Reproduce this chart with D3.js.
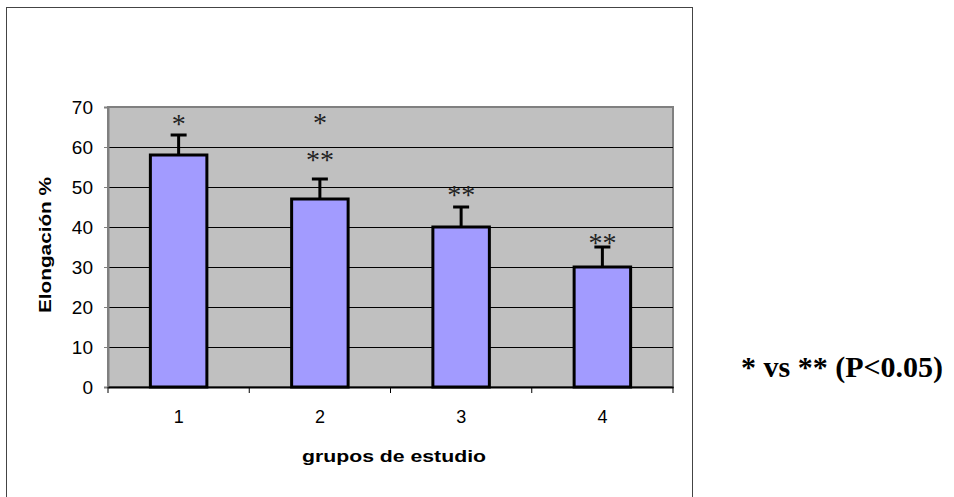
<!DOCTYPE html>
<html>
<head>
<meta charset="utf-8">
<script src="https://cdn.jsdelivr.net/npm/d3@7"></script>
<style>
  html, body { margin: 0; padding: 0; background: #fff; }
  svg { display: block; }
</style>
</head>
<body>
<svg id="chart" width="954" height="497"></svg>
<script>
// Elongation by study group (mean with upper error bar)
const groups = ["1", "2", "3", "4"];
const meanValues = [58, 47, 40, 30];
const errorValues = [5, 5, 5, 5];
const yTicks = [0, 10, 20, 30, 40, 50, 60, 70];
// significance marks per group: [label, value level where it is drawn]
const sigMarks = [
  [{ text: "*", level: 67.2 }],
  [{ text: "*", level: 67.4 }, { text: "**", level: 58.2 }],
  [{ text: "**", level: 49.6 }],
  [{ text: "**", level: 37.4 }]
];
const yTitle = "Elongación %";
const xTitle = "grupos de estudio";
const noteText = "* vs ** (P<0.05)";

const svg = d3.select("#chart");
const plot = { left: 108, right: 673, top: 107, bottom: 387 };

const x = d3.scaleBand().domain(groups)
  .range([plot.left, plot.right]).paddingInner(0.6).paddingOuter(0.3);
const xCat = d3.scaleBand().domain(groups).range([plot.left, plot.right]);
const y = d3.scaleLinear().domain([0, 70]).range([plot.bottom, plot.top]);

const sans = "Liberation Sans, Arial, sans-serif";
const serif = "Liberation Serif, Times New Roman, serif";

// outer chart frame
svg.append("rect")
  .attr("x", 6.5).attr("y", 7.5).attr("width", 686).attr("height", 500)
  .attr("fill", "#fff").attr("stroke", "#444").attr("stroke-width", 1);

// plot area background
svg.append("rect")
  .attr("x", plot.left).attr("y", plot.top)
  .attr("width", plot.right - plot.left).attr("height", plot.bottom - plot.top)
  .attr("fill", "#c0c0c0").attr("stroke", "#808080").attr("stroke-width", 2);

// horizontal gridlines
svg.append("g").selectAll("line")
  .data(yTicks.filter(d => d > 0 && d < 70))
  .join("line")
  .attr("x1", plot.left).attr("x2", plot.right)
  .attr("y1", d => Math.round(y(d)) + 0.5).attr("y2", d => Math.round(y(d)) + 0.5)
  .attr("stroke", "#000").attr("stroke-width", 1);

// y axis
const yAxis = svg.append("g")
  .attr("transform", `translate(${plot.left},0)`)
  .call(d3.axisLeft(y).tickValues(yTicks).tickSize(4).tickPadding(11));
yAxis.select(".domain").attr("stroke", "#808080").attr("stroke-width", 2);
yAxis.selectAll(".tick line").attr("stroke", "#808080");
yAxis.selectAll("text")
  .attr("font-family", sans)
  .attr("font-size", 19).attr("fill", "#000");

// x axis with ticks at category boundaries
const xAxis = svg.append("g")
  .attr("transform", `translate(0,${plot.bottom})`)
  .call(d3.axisBottom(xCat).tickSize(0).tickPadding(23));
xAxis.select(".domain").attr("stroke", "#000").attr("stroke-width", 2);
xAxis.selectAll("text")
  .attr("font-family", sans)
  .attr("font-size", 18).attr("fill", "#000");
const boundaries = groups.map(g => xCat(g)).concat([plot.right]);
svg.append("g").selectAll("line")
  .data(boundaries)
  .join("line")
  .attr("x1", d => d).attr("x2", d => d)
  .attr("y1", plot.bottom).attr("y2", plot.bottom + 6)
  .attr("stroke", "#000").attr("stroke-width", 1);

// bars
svg.append("g").selectAll("rect")
  .data(groups)
  .join("rect")
  .attr("x", g => x(g))
  .attr("y", (g, i) => y(meanValues[i]))
  .attr("width", x.bandwidth())
  .attr("height", (g, i) => plot.bottom - y(meanValues[i]))
  .attr("fill", "#a29bff").attr("stroke", "#000").attr("stroke-width", 3);

// error bars
const err = svg.append("g");
groups.forEach((g, i) => {
  const cx = x(g) + x.bandwidth() / 2;
  const top = y(meanValues[i] + errorValues[i]);
  err.append("line")
    .attr("x1", cx).attr("x2", cx)
    .attr("y1", y(meanValues[i])).attr("y2", top)
    .attr("stroke", "#000").attr("stroke-width", 3);
  err.append("line")
    .attr("x1", cx - 8).attr("x2", cx + 8)
    .attr("y1", top).attr("y2", top)
    .attr("stroke", "#000").attr("stroke-width", 3);
});

// significance asterisks
const sig = svg.append("g");
groups.forEach((g, i) => {
  const cx = x(g) + x.bandwidth() / 2;
  sigMarks[i].forEach(m => {
    sig.append("text")
      .attr("x", cx).attr("y", y(m.level) + 15)
      .attr("text-anchor", "middle")
      .attr("font-family", serif)
      .attr("font-size", 28).attr("fill", "#222")
      .text(m.text);
  });
});

// axis titles
svg.append("text")
  .attr("x", 394).attr("y", 462)
  .attr("text-anchor", "middle")
  .attr("font-family", sans)
  .attr("font-weight", "bold").attr("font-size", 17)
  .attr("textLength", 184).attr("lengthAdjust", "spacingAndGlyphs")
  .text(xTitle);
svg.append("text")
  .attr("transform", `translate(51,245) rotate(-90)`)
  .attr("text-anchor", "middle")
  .attr("font-family", sans)
  .attr("font-weight", "bold").attr("font-size", 16)
  .attr("textLength", 136).attr("lengthAdjust", "spacingAndGlyphs")
  .text(yTitle);

// significance note
svg.append("text")
  .attr("x", 741).attr("y", 377)
  .attr("font-family", serif)
  .attr("font-weight", "bold").attr("font-size", 30)
  .text(noteText);
</script>
</body>
</html>
